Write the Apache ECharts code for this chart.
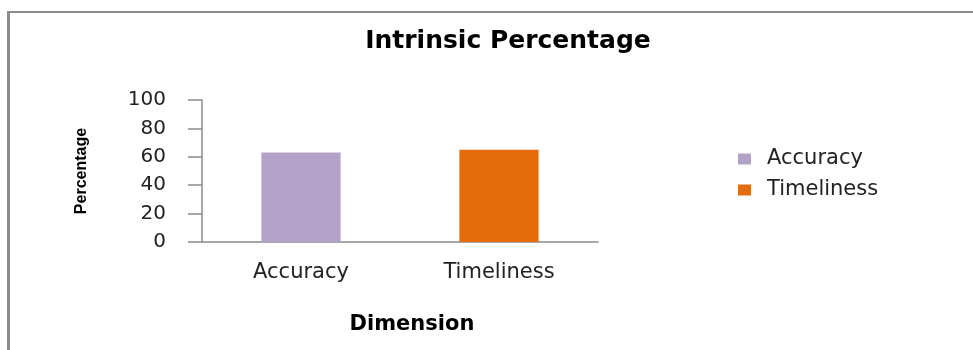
<!DOCTYPE html>
<html>
<head>
<meta charset="utf-8">
<script src="https://cdn.jsdelivr.net/npm/echarts@6/dist/echarts.min.js"></script>
<style>
  html, body { margin: 0; padding: 0; background: #fff; }
  #frame { position: absolute; left: 7px; top: 11px; right: 0; bottom: 0; border-left: 3px solid #8c8c8c; border-top: 2px solid #8c8c8c; }
  #chart { position: absolute; left: 0; top: 0; width: 973px; height: 350px; }
</style>
</head>
<body>
<div id="frame"></div>
<div id="chart"></div>
<script>
const categories = ['Accuracy', 'Timeliness'];
const seriesNames = ['Accuracy', 'Timeliness'];
const values = [63, 65];
const colors = ['#b3a2c7', '#e46c0a'];
const yTicks = [0, 20, 40, 60, 80, 100];

const chart = echarts.init(document.getElementById('chart'), null, { renderer: 'canvas' });

// one series per dimension so the legend gets two entries; bars stay in their own category
const series = seriesNames.map((name, i) => ({
  type: 'bar',
  name,
  stack: 'all',
  barWidth: '40%',
  itemStyle: { color: colors[i] },
  data: categories.map((c, j) => (j === i ? values[i] : null)),
}));

chart.setOption({
  animation: false,
  title: {
    text: 'Intrinsic Percentage',
    left: 503, top: 24, textAlign: 'center',
    textStyle: { fontFamily: 'DejaVu Sans', fontWeight: 'bold', fontSize: 25, color: '#000' },
  },
  legend: {
    orient: 'vertical',
    left: 733, top: 143,
    itemWidth: 13, itemHeight: 11, itemGap: 9,
    icon: 'rect',
    textStyle: { fontFamily: 'DejaVu Sans', fontSize: 21, color: '#222', padding: [0, 0, 0, 11], lineHeight: 22 },
    data: seriesNames,
  },
  grid: { left: 202, right: 375, top: 100, bottom: 108 },
  xAxis: {
    type: 'category',
    data: categories,
    name: 'Dimension',
    nameLocation: 'middle',
    nameGap: 72,
    nameTextStyle: { fontFamily: 'DejaVu Sans', fontWeight: 'bold', fontSize: 21, color: '#000', padding: [0, 0, 0, 24] },
    axisLine: { lineStyle: { color: '#8c8c8c', width: 1.5 } },
    axisTick: { length: 7, lineStyle: { color: '#8c8c8c', width: 1.5 } },
    axisLabel: { fontFamily: 'DejaVu Sans', fontSize: 21, color: '#222', margin: 20 },
  },
  yAxis: {
    type: 'value',
    min: 0, max: 100, interval: 20,
    name: 'Percentage',
    nameLocation: 'middle',
    nameRotate: 90,
    nameGap: 112,
    nameTextStyle: { fontFamily: 'Liberation Sans', fontWeight: 'bold', fontSize: 16, color: '#000' },
    axisLine: { show: true, lineStyle: { color: '#8c8c8c', width: 1.5 } },
    axisTick: { show: true, length: 14, lineStyle: { color: '#8c8c8c', width: 1.5 } },
    splitLine: { show: false },
    axisLabel: {
      fontFamily: 'DejaVu Sans', fontSize: 20, color: '#222', margin: 36,
      formatter: (v) => (yTicks.includes(v) ? String(v) : ''),
    },
  },
  series,
});
</script>
</body>
</html>
